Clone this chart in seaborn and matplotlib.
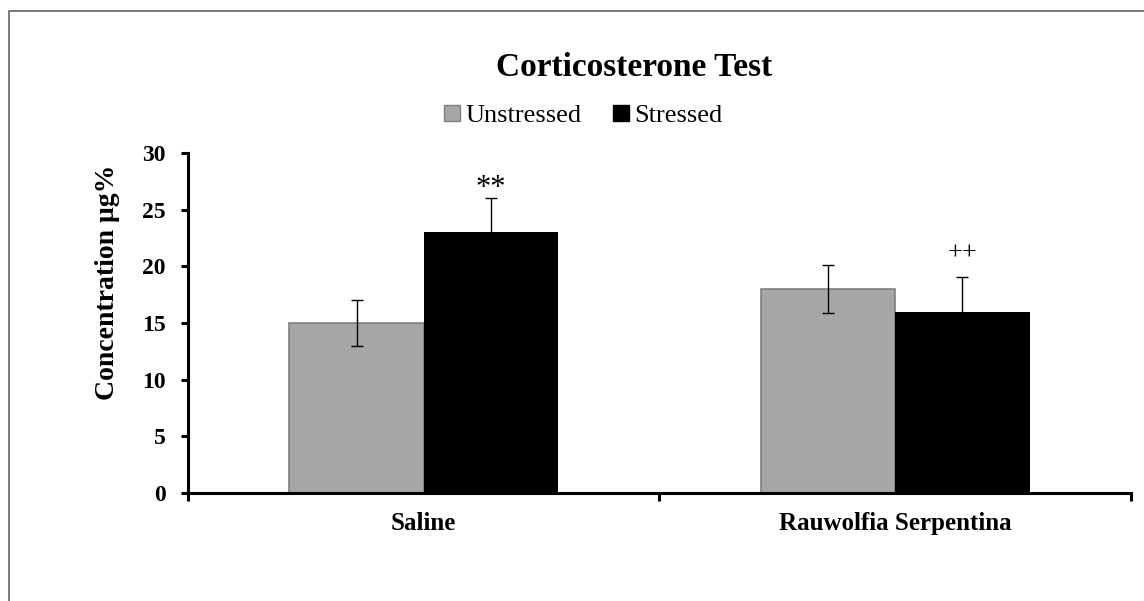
import matplotlib
matplotlib.use('Agg')
import matplotlib.pyplot as plt
import seaborn as sns
import pandas as pd
from matplotlib.lines import Line2D
from matplotlib.patches import Patch

# data
groups = ['Saline', 'Rauwolfia Serpentina']
conditions = ['Unstressed', 'Stressed']
unstressed_mean = [15, 18]
stressed_mean = [23, 16]
unstressed_err = [2.05, 2.1]
stressed_err = [3.05, 3.05]
stressed_marks = ['**', '++']
colors = {'Unstressed': '#A6A6A6', 'Stressed': '#000000'}

df = pd.DataFrame({
    'group': groups * 2,
    'condition': ['Unstressed'] * 2 + ['Stressed'] * 2,
    'value': unstressed_mean + stressed_mean,
})

sns.set_style('white')
plt.rcParams['font.family'] = ['Liberation Serif', 'DejaVu Serif']
plt.rcParams['text.color'] = 'black'
plt.rcParams['axes.labelcolor'] = 'black'
plt.rcParams['xtick.color'] = 'black'
plt.rcParams['ytick.color'] = 'black'

fig = plt.figure(figsize=(11.44, 6.01), dpi=100)
ax = fig.add_axes([188 / 1144, 1 - 493 / 601, (1131 - 188) / 1144, 340 / 601])

sns.barplot(data=df, x='group', y='value', hue='condition', order=groups,
            hue_order=conditions, palette=colors, saturation=1, width=0.57,
            gap=0, errorbar=None, ax=ax, legend=False)

# bar edges + error bars
errs = {'Unstressed': unstressed_err, 'Stressed': stressed_err}
for cont, cond in zip(ax.containers, conditions):
    xs, ys = [], []
    for bar in cont:
        if cond == 'Unstressed':
            bar.set_edgecolor('#7F7F7F')
            bar.set_linewidth(1.2)
        else:
            bar.set_edgecolor('#000000')
            bar.set_linewidth(0)
        xs.append(bar.get_x() + bar.get_width() / 2)
        ys.append(bar.get_height())
    ax.errorbar(xs, ys, yerr=errs[cond], fmt='none', ecolor='black',
                elinewidth=1, capsize=4, capthick=1, zorder=5)

# significance marks over stressed bars
mark_offsets = [1, 13]
mark_sizes = [22, 19]
for bar, err, mark, off, fs in zip(ax.containers[1], stressed_err, stressed_marks,
                                   mark_offsets, mark_sizes):
    ax.annotate(mark, (bar.get_x() + bar.get_width() / 2, bar.get_height() + err),
                xytext=(0, off), textcoords='offset points', ha='center',
                va='baseline', fontsize=fs)

ax.set_ylim(0, 30)
ax.set_xlim(-0.5, 1.5)
ax.set_yticks(range(0, 31, 5))
ax.set_xticks([0, 1])
ax.set_xticklabels(groups, fontsize=18, fontweight='bold')
ax.set_xticks([-0.5, 0.5, 1.5], minor=True)
ax.tick_params(axis='x', which='major', length=0, pad=14)
ax.tick_params(axis='x', which='minor', length=6, width=2.2, direction='out', bottom=True)
ax.tick_params(axis='y', which='major', length=5, width=2.2, direction='out', left=True, pad=11)
for lab in ax.get_yticklabels():
    lab.set_fontsize(17)
    lab.set_fontweight('bold')

ax.set_xlabel('')
ax.set_ylabel('Concentration μg%', fontsize=20, fontweight='bold')
ax.yaxis.set_label_coords(-0.072, 0.62)

for side in ['top', 'right']:
    ax.spines[side].set_visible(False)
for side in ['left', 'bottom']:
    ax.spines[side].set_linewidth(2.2)
    ax.spines[side].set_color('black')

fig.text(634 / 1144, 1 - 68 / 601, 'Corticosterone Test', ha='center', va='center',
         fontsize=24, fontweight='bold')

handles = [Patch(facecolor=colors['Unstressed'], edgecolor='#7F7F7F', label='Unstressed'),
           Patch(facecolor=colors['Stressed'], edgecolor='#000000', label='Stressed')]
fig.legend(handles=handles, loc='center', bbox_to_anchor=(583 / 1144, 1 - 116 / 601),
           ncol=2, frameon=False, fontsize=19, handlelength=0.6, handleheight=0.6,
           handletextpad=0.2, columnspacing=1.2, borderaxespad=0)

# outer frame (left/top edges visible)
fig.add_artist(Line2D([8.5 / 1144, 8.5 / 1144, 1.0], [0, 1 - 11 / 601, 1 - 11 / 601],
                      transform=fig.transFigure, color='#555555', lw=1.1))

fig.savefig('out.png', dpi=100)
